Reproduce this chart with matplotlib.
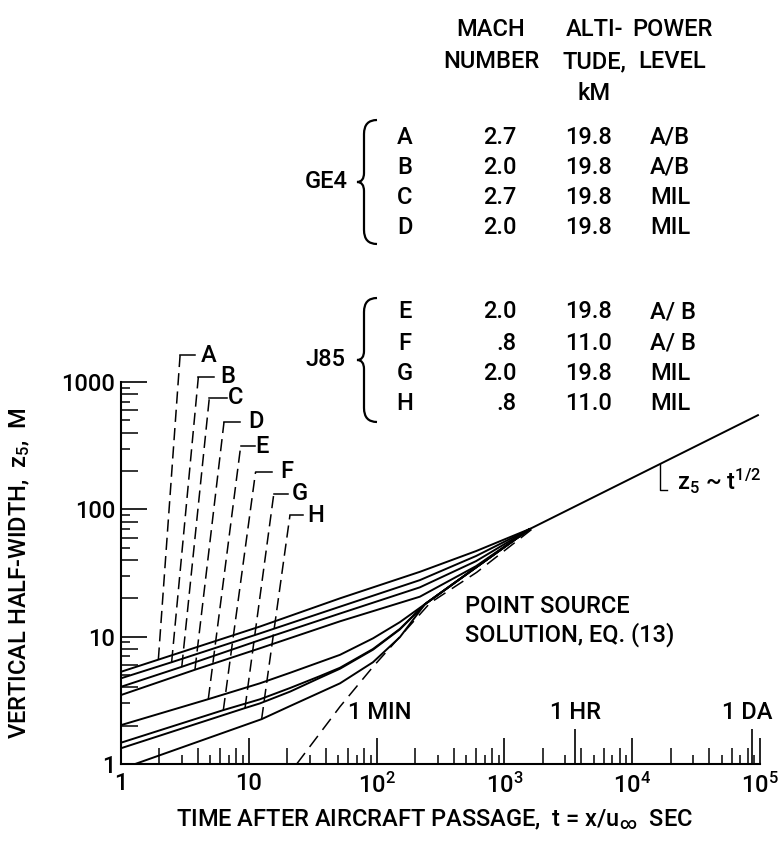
import matplotlib
matplotlib.use("Agg")
import matplotlib.pyplot as plt
from matplotlib import font_manager as fm
from matplotlib.path import Path
from matplotlib.patches import PathPatch
from matplotlib.ticker import FixedLocator, NullFormatter
from matplotlib.transforms import Affine2D

have = {f.name for f in fm.fontManager.ttflist}
MAIN = next(n for n in ["Roboto", "Liberation Sans", "DejaVu Sans"]
            if n in have)
plt.rcParams["font.family"] = [MAIN, "DejaVu Sans"]
plt.rcParams["font.weight"] = "medium"
plt.rcParams["axes.labelweight"] = "medium"
plt.rcParams["mathtext.fontset"] = "custom"
plt.rcParams["mathtext.rm"] = MAIN + ":medium"
plt.rcParams["mathtext.it"] = MAIN + ":medium"
plt.rcParams["mathtext.bf"] = MAIN + ":bold"
plt.rcParams["mathtext.fallback"] = "cm"

FS = 17

# ----------------------------------------------------------------------
# Data (t in s, z5 in m)
# ----------------------------------------------------------------------
t_A = [1, 1.96, 12.2, 51.7, 218, 600, 1585]
z_A = [5.3, 6.6, 12.0, 20.0, 32.3, 47.0, 70.2]
t_B = [1, 2.49, 12.2, 51.7, 218, 600, 1585]
z_B = [4.71, 6.3, 10.6, 17.2, 27.8, 43.0, 70.2]
t_C = [1, 2.99, 12.2, 51.7, 218, 600, 1585]
z_C = [4.04, 5.8, 9.4, 15.2, 24.4, 39.2, 70.2]
t_D = [1, 3.79, 12.2, 51.7, 218, 600, 1585]
z_D = [3.48, 5.5, 8.1, 13.2, 20.6, 35.8, 70.2]
t_E = [1, 4.82, 12.2, 21, 51.7, 93.7, 152, 239, 600, 1585]
z_E = [2.02, 3.23, 4.3, 5.2, 7.2, 9.7, 13.0, 18.0, 35.0, 70.2]
t_F = [1, 6.32, 12.2, 21, 36, 51.7, 93.7, 152, 239, 600, 1585]
z_F = [1.47, 2.65, 3.22, 3.95, 4.9, 5.7, 8.0, 11.5, 18.0, 35.0, 70.2]
t_G = [1, 9.34, 12.2, 21, 36, 51.7, 93.7, 152, 239, 600, 1585]
z_G = [1.33, 2.75, 2.99, 3.7, 4.75, 5.6, 7.9, 11.4, 18.0, 35.0, 70.2]
t_H = [1.29, 12.6, 21, 51.7, 93.7, 152, 239, 600, 1585]
z_H = [1.0, 2.25, 2.85, 4.3, 6.3, 9.9, 18.0, 35.0, 70.2]

# point source solution, eq. (13)
t_ps = [23.7, 51.7, 93.7, 152, 262, 607, 1800]
z_ps = [1.0, 2.82, 5.8, 9.98, 18.4, 32.0, 75.0]

# asymptote z5 ~ t^1/2
t_asym = [1585, 96400]
z_asym = [70.2, 549]

# dashed leaders to the case letters
cases = ["A", "B", "C", "D", "E", "F", "G", "H"]
lead_t0 = [1.96, 2.49, 2.99, 3.79, 4.82, 6.32, 9.34, 12.6]
lead_z0 = [6.6, 6.3, 5.8, 5.5, 3.23, 2.65, 2.75, 2.25]
lead_t1 = [2.90, 4.03, 4.91, 6.4, 8.64, 11.3, 15.7, 21.0]
lead_z1 = [1623, 1096, 750, 486, 313, 197, 133, 90]
lead_tend = [3.79, 5.34, 6.72, 8.53, 11.2, 15.1, 20.3, 26.5]
label_t = [4.2, 5.95, 6.9, 9.9, 11.2, 17.5, 21.8, 28.5]

# time markers on the abscissa
mark_t = [60, 3600, 86400]
mark_txt = ["1 MIN", "1 HR", "1 DA"]
mark_txt_t = [106, 3600, 79000]

# legend table
mach = ["2.7", "2.0", "2.7", "2.0", "2.0", ".8", "2.0", ".8"]
alt = ["19.8", "19.8", "19.8", "19.8", "19.8", "11.0", "19.8", "11.0"]
power = ["A/B", "A/B", "MIL", "MIL", "A/ B", "A/ B", "MIL", "MIL"]
engines = ["GE4", "J85"]

curves = [(t_A, z_A), (t_B, z_B), (t_C, z_C), (t_D, z_D),
          (t_E, z_E), (t_F, z_F), (t_G, z_G), (t_H, z_H)]


def brace(fig, tr, x_tip, y_top, y_bot):
    """Curly brace opening to the right, in picture pixels."""
    xm = x_tip + 7
    xr = x_tip + 20
    ym = (y_top + y_bot) / 2
    verts = [(xr, y_top), (xm, y_top), (xm, y_top + 14),
             (xm, ym - 9), (xm, ym), (x_tip, ym),
             (xm, ym), (xm, ym + 9),
             (xm, y_bot - 14), (xm, y_bot), (xr, y_bot)]
    codes = [Path.MOVETO, Path.CURVE3, Path.CURVE3,
             Path.LINETO, Path.CURVE3, Path.CURVE3,
             Path.CURVE3, Path.CURVE3,
             Path.LINETO, Path.CURVE3, Path.CURVE3]
    fig.add_artist(PathPatch(Path(verts, codes), transform=tr,
                             fill=False, lw=1.6, color="black"))


# ----------------------------------------------------------------------
W, H = 782, 848
fig = plt.figure(figsize=(W / 100, H / 100), dpi=100)
ax = fig.add_axes([121 / W, 1 - 764 / H, 639 / W, 382 / H])
px = Affine2D().scale(1 / W, -1 / H).translate(0, 1) + fig.transFigure

ax.set_xscale("log")
ax.set_yscale("log")
ax.set_xlim(1, 1e5)
ax.set_ylim(1, 1000)

for t, z in curves:
    ax.plot(t, z, color="black", lw=1.4, solid_capstyle="round")
ax.plot(t_asym, z_asym, color="black", lw=1.4)
ax.plot(t_ps, z_ps, color="black", lw=1.1, ls=(0, (9, 5)))

for i, c in enumerate(cases):
    ax.plot([lead_t0[i], lead_t1[i]], [lead_z0[i], lead_z1[i]],
            color="black", lw=1.1, ls=(0, (8, 4)), clip_on=False)
    ax.plot([lead_t1[i], lead_tend[i]], [lead_z1[i], lead_z1[i]],
            color="black", lw=1.1, clip_on=False)
    ax.text(label_t[i], lead_z1[i], c, fontsize=FS, ha="left",
            va="center", clip_on=False)

# z5 ~ t^1/2 leader
ax.plot([16500, 16500, 18700], [227, 141, 141], color="black", lw=1.0)
ax.text(22400, 141, r"z$_5$ ~ t$^{1/2}$", fontsize=FS, ha="left",
        va="baseline")

ax.text(492, 21.2, "POINT SOURCE\nSOLUTION, EQ. (13)", fontsize=FS,
        ha="left", va="top", linespacing=1.2)

for t, s in zip(mark_txt_t, mark_txt):
    ax.text(t, 2.25, s, fontsize=FS, ha="center", va="baseline")

# ----------------------------------------------------------------------
# Axes, ticks
# ----------------------------------------------------------------------
for s in ["top", "right"]:
    ax.spines[s].set_visible(False)
for s in ["left", "bottom"]:
    ax.spines[s].set_linewidth(1.5)

decx = [1, 10, 100, 1e3, 1e4, 1e5]
decy = [1, 10, 100, 1000]
odd = [m * d for d in decx[:-1] for m in (3, 5, 7, 9)]
even = [m * d for d in decx[:-1] for m in (2, 4, 6, 8)]

ax.set_xticks(decx, ["1", "10", "$10^2$", "$10^3$", "$10^4$", "$10^5$"])
ax.set_yticks(decy, ["1", "10", "100", "1000"])
ax.xaxis.set_minor_locator(FixedLocator(odd))
ax.yaxis.set_minor_locator(FixedLocator([v for v in odd if v < 1000]))
ax.xaxis.set_minor_formatter(NullFormatter())
ax.yaxis.set_minor_formatter(NullFormatter())
ax.tick_params(which="major", direction="in", length=19, width=1.2,
               labelsize=FS)
ax.tick_params(which="minor", direction="in", length=6.5, width=1.1)
ax.tick_params(axis="x", which="major", pad=6)
ax.tick_params(axis="y", which="major", pad=4)

secx = ax.secondary_xaxis("bottom")
secx.set_xticks(even)
secx.xaxis.set_minor_locator(FixedLocator(mark_t))
secx.tick_params(which="major", direction="in", length=11.5, width=1.1,
                 labelbottom=False)
secx.tick_params(which="minor", direction="in", length=25, width=1.2,
                 labelbottom=False)
secx.spines["bottom"].set_visible(False)

secy = ax.secondary_yaxis("left")
secy.set_yticks([v for v in even if v < 1000])
secy.yaxis.set_minor_locator(FixedLocator([]))
secy.tick_params(which="major", direction="in", length=12, width=1.1,
                 labelleft=False)
secy.spines["left"].set_visible(False)

ax.set_xlabel(r"TIME AFTER AIRCRAFT PASSAGE,  t = x/u$_\infty$  SEC",
              fontsize=FS)
ax.xaxis.set_label_coords(0.49, -0.115)
ax.set_ylabel(r"VERTICAL HALF-WIDTH,  z$_5$,  M", fontsize=FS)
ax.yaxis.set_label_coords(-0.14, 0.5)

# ----------------------------------------------------------------------
# Legend table (picture pixels)
# ----------------------------------------------------------------------
for x, lines in [(491, ["MACH", "NUMBER"]), (594, ["ALTI-", "TUDE,", "kM"]),
                 (672, ["POWER", "LEVEL"])]:
    for k, s in enumerate(lines):
        fig.text(x, 30 + 32 * k, s, transform=px, fontsize=FS,
                 ha="center", va="center")

rows_y = [137, 167, 197, 227, 312, 343, 373, 404]
for i, y in enumerate(rows_y):
    fig.text(405, y, cases[i], transform=px, fontsize=FS, ha="center",
             va="center")
    fig.text(517, y, mach[i], transform=px, fontsize=FS, ha="right",
             va="center")
    fig.text(612, y, alt[i], transform=px, fontsize=FS, ha="right",
             va="center")
    fig.text(650, y, power[i], transform=px, fontsize=FS, ha="left",
             va="center")

for name, (top, bot) in zip(engines, [(120, 244), (298, 422)]):
    brace(fig, px, 357, top, bot)
    fig.text(326, (top + bot) / 2, name, transform=px, fontsize=FS,
             ha="center", va="center")

fig.savefig("out.png", dpi=100)
